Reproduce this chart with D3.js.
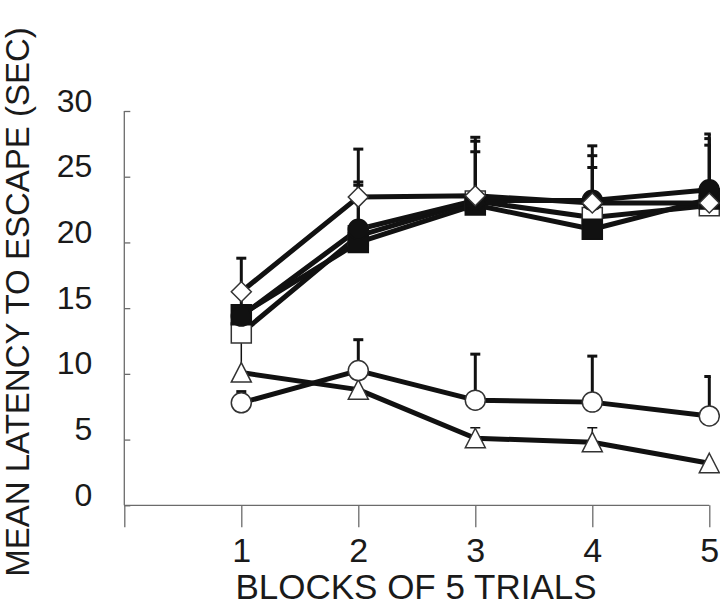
<!DOCTYPE html>
<html>
<head>
<meta charset="utf-8">
<script src="https://cdn.jsdelivr.net/npm/d3@7"></script>
<style>
  body { margin: 0; background: #fff; }
  svg { display: block; font-family: "Liberation Sans", Arial, sans-serif; }
</style>
</head>
<body>
<div id="chart"></div>
<script>
// Data (upper error only, null = hidden behind other marks)
var blocks = [1, 2, 3, 4, 5];
var xTicks = [0, 1, 2, 3, 4, 5];
var yTicks = [0, 5, 10, 15, 20, 25, 30];

var openDiamond      = [16.25, 23.45, 23.55, 23.0, 23.0];
var openDiamondErr   = [18.8, 27.1, 26.9, null, null];
var filledSquare     = [14.5, 20.0, 22.85, 21.0, 23.3];
var filledSquareErr  = [16.5, 21.5, 27.7, 26.6, 27.9];
var openSquare       = [13.1, 20.5, 23.15, 21.9, 22.8];
var openSquareErr    = [null, 24.35, null, 25.7, 27.4];
var filledCircle     = [14.4, 21.0, 23.2, 23.2, 24.0];
var filledCircleErr  = [null, 24.6, 28.0, 27.35, 28.25];
var openCircle       = [7.8, 10.25, 8.0, 7.85, 6.8];
var openCircleErr    = [8.65, 12.6, 11.5, 11.35, 9.8];
var openTriangle     = [10.1, 8.8, 5.1, 4.8, 3.2];
var openTriangleErr  = [12.5, null, 5.9, 5.9, null];

// series in drawing order (bottom to top)
var series = [
  { values: openTriangle, err: openTriangleErr, shape: "triangle", filled: false, errWidth: 1.5 },
  { values: openCircle,   err: openCircleErr,   shape: "circle",   filled: false, errWidth: 3 },
  { values: openSquare,   err: openSquareErr,   shape: "square",   filled: false, errWidth: 3 },
  { values: filledSquare, err: filledSquareErr, shape: "square",   filled: true,  errWidth: 3 },
  { values: filledCircle, err: filledCircleErr, shape: "circle",   filled: true,  errWidth: 3 },
  { values: openDiamond,  err: openDiamondErr,  shape: "diamond",  filled: false, errWidth: 3 }
];

var W = 720, H = 605;

var svg = d3.select("#chart")
  .append("svg")
    .attr("width", W)
    .attr("height", H);

var x = d3.scaleLinear().domain([0, 5]).range([124.3, 709.3]);
var y = d3.scaleLinear().domain([0, 30]).range([505.3, 111]);

var axisColor = "#6b6b6b";

// X axis (tick at 0 doubles as the y axis extension)
var gx = svg.append("g")
  .attr("transform", "translate(0," + y(0) + ")")
  .call(d3.axisBottom(x)
    .tickValues(xTicks)
    .tickSize(22)
    .tickPadding(11)
    .tickFormat(function (d) { return d === 0 ? "" : d; }));
gx.select(".domain").remove();
gx.selectAll("line").attr("stroke", axisColor).attr("stroke-width", 1.3);
gx.selectAll("text")
  .attr("fill", "#1a1a1a")
  .style("font-size", "34px")
  .style("font-family", "Liberation Sans, Arial, sans-serif");

// Y axis, ticks point inward
var gy = svg.append("g")
  .attr("transform", "translate(" + x(0) + ",0)")
  .call(d3.axisLeft(y)
    .tickValues(yTicks)
    .tickSizeInner(-6)
    .tickSizeOuter(0)
    .tickPadding(32));
gy.select(".domain").remove();
gy.selectAll("line").attr("stroke", axisColor).attr("stroke-width", 1.3);
gy.selectAll("text")
  .attr("dy", "0")
  .attr("fill", "#1a1a1a")
  .style("font-size", "32px")
  .style("font-family", "Liberation Sans, Arial, sans-serif");

// axis lines
svg.append("line")
  .attr("x1", x(0)).attr("x2", x(0))
  .attr("y1", y(30)).attr("y2", y(0))
  .attr("stroke", axisColor).attr("stroke-width", 1.3);
svg.append("line")
  .attr("x1", x(0)).attr("x2", x(5))
  .attr("y1", y(0)).attr("y2", y(0))
  .attr("stroke", axisColor).attr("stroke-width", 1.3);

// data lines
var line = d3.line()
  .x(function (d, i) { return x(blocks[i]); })
  .y(function (d) { return y(d); });

series.forEach(function (s) {
  svg.append("path")
    .datum(s.values)
    .attr("d", line)
    .attr("fill", "none")
    .attr("stroke", "#111")
    .attr("stroke-width", 5)
    .attr("stroke-linejoin", "round");
});

// error bars (upper only)
series.forEach(function (s) {
  var g = svg.append("g")
    .attr("stroke", "#111")
    .attr("stroke-width", s.errWidth);
  s.values.forEach(function (v, i) {
    var e = s.err[i];
    if (e == null) return;
    var cx = x(blocks[i]);
    g.append("line")
      .attr("x1", cx).attr("x2", cx)
      .attr("y1", y(v)).attr("y2", y(e));
    // last column is cropped on the right in the original
    var right = i === blocks.length - 1 ? 1.5 : 5;
    g.append("line")
      .attr("x1", cx - 5).attr("x2", cx + right)
      .attr("y1", y(e)).attr("y2", y(e))
      .attr("stroke-width", s.errWidth === 3 ? 3 : 1.5);
  });
});

// marker shapes
function shapePath(shape) {
  if (shape === "square") return "M-10,-10H10V10H-10Z";
  if (shape === "diamond") return "M0,-10L10,0L0,10L-10,0Z";
  if (shape === "triangle") return "M0,-10L10,9.5H-10Z";
  return d3.path().toString();
}

series.forEach(function (s) {
  var g = svg.append("g");
  s.values.forEach(function (v, i) {
    var el;
    if (s.shape === "circle") {
      el = g.append("circle")
        .attr("cx", x(blocks[i]))
        .attr("cy", y(v))
        .attr("r", 10);
    } else {
      el = g.append("path")
        .attr("d", shapePath(s.shape))
        .attr("transform", "translate(" + x(blocks[i]) + "," + y(v) + ")");
    }
    el.attr("fill", s.filled ? "#111" : "#fff")
      .attr("stroke", s.filled ? "#111" : "#333")
      .attr("stroke-width", 1.5);
  });
});

// axis titles
svg.append("text")
  .attr("x", 416)
  .attr("y", 599)
  .attr("text-anchor", "middle")
  .attr("fill", "#1a1a1a")
  .style("font-size", "35px")
  .text("BLOCKS OF 5 TRIALS");

svg.append("text")
  .attr("transform", "translate(29,302) rotate(-90)")
  .attr("text-anchor", "middle")
  .attr("fill", "#1a1a1a")
  .style("font-size", "33px")
  .text("MEAN LATENCY TO ESCAPE (SEC)");
</script>
</body>
</html>
